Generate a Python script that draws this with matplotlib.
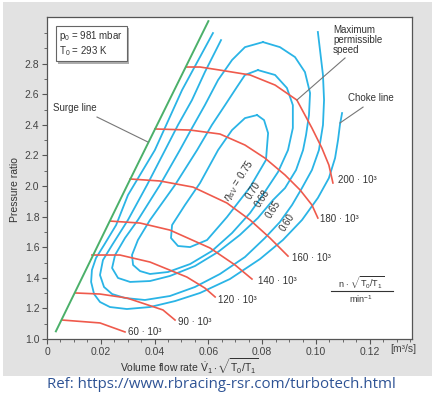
import matplotlib
matplotlib.use('Agg')
import matplotlib.pyplot as plt
from matplotlib.patches import Rectangle
import matplotlib.patheffects as pe

plt.rcParams['font.family'] = ['Liberation Sans', 'DejaVu Sans']
plt.rcParams['mathtext.fontset'] = 'custom'
plt.rcParams['mathtext.rm'] = 'Liberation Sans'
plt.rcParams['mathtext.it'] = 'Liberation Sans:italic'

# ---------------- data ----------------
surge_x = [0.0033, 0.0297, 0.0600]
surge_y = [1.05, 2.00, 3.078]

# speed lines (n*sqrt(T0/T1) in min^-1)
speed_labels = ["60 · 10³", "90 · 10³", "120 · 10³", "140 · 10³", "160 · 10³", "180 · 10³", "200 · 10³"]
sp60_x = [0.0056, 0.0197, 0.0290]
sp60_y = [1.124, 1.105, 1.046]
sp90_x = [0.0104, 0.0197, 0.0297, 0.0431, 0.0476]
sp90_y = [1.301, 1.294, 1.268, 1.190, 1.124]
sp120_x = [0.0167, 0.0271, 0.0383, 0.0520, 0.0587, 0.0625]
sp120_y = [1.549, 1.549, 1.503, 1.405, 1.333, 1.275]
sp140_x = [0.0234, 0.0346, 0.0457, 0.0606, 0.0699, 0.0762]
sp140_y = [1.771, 1.758, 1.712, 1.595, 1.484, 1.392]
sp160_x = [0.0309, 0.0420, 0.0543, 0.0669, 0.0755, 0.0829, 0.0896]
sp160_y = [2.046, 2.033, 1.993, 1.889, 1.778, 1.660, 1.542]
sp180_x = [0.0401, 0.0532, 0.0643, 0.0736, 0.0810, 0.0885, 0.0941, 0.0985, 0.1007]
sp180_y = [2.373, 2.366, 2.340, 2.268, 2.183, 2.072, 1.974, 1.876, 1.791]
sp200_x = [0.0517, 0.0569, 0.0643, 0.0755, 0.0848, 0.0929, 0.0985, 0.1022, 0.1048, 0.1063]
sp200_y = [2.778, 2.778, 2.758, 2.726, 2.660, 2.562, 2.379, 2.248, 2.137, 2.020]
speed_label_x = [0.0301, 0.0487, 0.0636, 0.0784, 0.0911, 0.1015, 0.1082]
speed_label_y = [1.046, 1.111, 1.255, 1.379, 1.529, 1.784, 2.039]

# efficiency contours
eff_labels = [r"$\eta_{\mathrm{isV}}$ = 0.75", "0.70", "0.68", "0.65", "0.60"]
eff_label_x = [0.0712, 0.0766, 0.0800, 0.0841, 0.0893]
eff_label_y = [2.033, 1.972, 1.920, 1.848, 1.762]

e75_x = [0.0781, 0.0807, 0.0822, 0.0814, 0.0755, 0.0669, 0.0595, 0.0532, 0.0487, 0.0461,
         0.0465, 0.0513, 0.0569, 0.0636, 0.0688, 0.0736, 0.0781]
e75_y = [2.464, 2.431, 2.346, 2.170, 1.993, 1.797, 1.647, 1.601, 1.608, 1.660,
         1.745, 1.876, 2.020, 2.235, 2.366, 2.444, 2.464]

e70_x = [0.0784, 0.0736, 0.0706, 0.0662, 0.0613, 0.0558, 0.0476, 0.0383, 0.0338, 0.0316,
         0.0320, 0.0346, 0.0383, 0.0450, 0.0532, 0.0613, 0.0688, 0.0755, 0.0807, 0.0859,
         0.0896, 0.0914, 0.0914, 0.0892, 0.0848, 0.0784]
e70_y = [2.758, 2.726, 2.647, 2.529, 2.399, 2.235, 2.007, 1.778, 1.647, 1.549,
         1.484, 1.444, 1.425, 1.438, 1.490, 1.575, 1.693, 1.824, 1.954, 2.092,
         2.235, 2.379, 2.529, 2.641, 2.726, 2.758]

e68_x = [0.0803, 0.0736, 0.0688, 0.0636, 0.0587, 0.0539, 0.0494, 0.0420, 0.0338, 0.0290,
         0.0253, 0.0242, 0.0264, 0.0309, 0.0383, 0.0457, 0.0550, 0.0636, 0.0717, 0.0784,
         0.0840, 0.0885, 0.0926, 0.0952, 0.0963, 0.0974, 0.0978, 0.0959, 0.0922, 0.0866, 0.0803]
e68_y = [2.941, 2.908, 2.824, 2.693, 2.529, 2.379, 2.235, 2.007, 1.778, 1.660,
         1.549, 1.464, 1.399, 1.373, 1.379, 1.412, 1.477, 1.569, 1.680, 1.791,
         1.908, 1.987, 2.105, 2.235, 2.333, 2.464, 2.608, 2.745, 2.843, 2.908, 2.941]

e65_x = [0.0647, 0.0587, 0.0539, 0.0487, 0.0439, 0.0372, 0.0301, 0.0242, 0.0208, 0.0197,
         0.0212, 0.0242, 0.0290, 0.0364, 0.0457, 0.0550, 0.0643, 0.0736, 0.0810, 0.0866,
         0.0911, 0.0948, 0.0985, 0.1011, 0.1026, 0.1030, 0.1026, 0.1015, 0.1007]
e65_y = [2.954, 2.745, 2.562, 2.399, 2.235, 2.007, 1.778, 1.614, 1.516, 1.418,
         1.340, 1.294, 1.268, 1.255, 1.281, 1.340, 1.425, 1.536, 1.660, 1.765,
         1.876, 1.987, 2.105, 2.235, 2.399, 2.562, 2.726, 2.889, 3.007]

e60_x = [0.0617, 0.0502, 0.0401, 0.0301, 0.0257, 0.0212, 0.0182, 0.0167, 0.0164, 0.0175,
         0.0197, 0.0234, 0.0297, 0.0383, 0.0476, 0.0569, 0.0680, 0.0792, 0.0877, 0.0948,
         0.1007, 0.1048, 0.1071, 0.1082, 0.1089, 0.1097]
e60_y = [3.000, 2.627, 2.235, 1.941, 1.745, 1.614, 1.529, 1.451, 1.373, 1.294,
         1.242, 1.209, 1.196, 1.209, 1.248, 1.301, 1.392, 1.523, 1.647, 1.778,
         1.922, 2.052, 2.183, 2.301, 2.399, 2.477]

x_ticks = [0, 0.02, 0.04, 0.06, 0.08, 0.10, 0.12]
x_tick_labels = ["0", "0.02", "0.04", "0.06", "0.08", "0.10", "0.12"]
y_ticks = [1.0, 1.2, 1.4, 1.6, 1.8, 2.0, 2.2, 2.4, 2.6, 2.8]
y_tick_labels = ["1.0", "1.2", "1.4", "1.6", "1.8", "2.0", "2.2", "2.4", "2.6", "2.8"]

# ---------------- figure ----------------
W, H = 436, 395
fig = plt.figure(figsize=(W / 100, H / 100), dpi=100)
fig.patch.set_facecolor('white')
fig.patches.append(Rectangle((3 / W, 1 - 376 / H), 429 / W, 374 / H,
                             transform=fig.transFigure, fc='#e2e2e2', ec='none', zorder=-10))

ax = fig.add_axes([47 / W, 1 - 339 / H, (412 - 47) / W, (339 - 17) / H])
ax.set_facecolor('white')
ax.set_xlim(0, 0.1357)
ax.set_ylim(1.0, 3.105)

BLUE = '#2ab4e6'
RED = '#ef5a4c'
GREEN = '#4bb06a'
TXT = '#333333'

for xs, ys in [(e75_x, e75_y), (e70_x, e70_y), (e68_x, e68_y), (e65_x, e65_y), (e60_x, e60_y)]:
    ax.plot(xs, ys, color=BLUE, lw=1.3, solid_joinstyle='round', zorder=2)

for xs, ys in [(sp60_x, sp60_y), (sp90_x, sp90_y), (sp120_x, sp120_y), (sp140_x, sp140_y),
               (sp160_x, sp160_y), (sp180_x, sp180_y), (sp200_x, sp200_y)]:
    ax.plot(xs, ys, color=RED, lw=1.2, solid_joinstyle='round', zorder=3)

ax.plot(surge_x, surge_y, color=GREEN, lw=1.4, zorder=4)

for lab, lx, ly in zip(speed_labels, speed_label_x, speed_label_y):
    ax.text(lx, ly, lab, fontsize=7, color=TXT, ha='left', va='center')

for lab, lx, ly in zip(eff_labels, eff_label_x, eff_label_y):
    ax.text(lx, ly, lab, fontsize=7, color=TXT, ha='center', va='center', rotation=57,
            rotation_mode='anchor', zorder=6)

# annotations
t = ax.text(0.034, 0.962, "p$_0$ = 981 mbar\nT$_0$ = 293 K", transform=ax.transAxes,
            fontsize=7, color=TXT, ha='left', va='top', linespacing=1.1,
            bbox=dict(boxstyle='square,pad=0.35', fc='white', ec='#666666', lw=0.8))
t.get_bbox_patch().set_path_effects([pe.withSimplePatchShadow(offset=(1.5, -1.5),
                                                              shadow_rgbFace='#999999', alpha=0.8)])

ax.text(0.0022, 2.51, "Surge line", fontsize=7, color=TXT, ha='left', va='center')
ax.plot([0.0186, 0.0375], [2.451, 2.288], color='#777777', lw=0.8, zorder=5)

ax.text(0.1063, 3.055, "Maximum\npermissible\nspeed", fontsize=7, color=TXT, ha='left',
        va='top', linespacing=1.0)
ax.plot([0.1108, 0.0929], [2.837, 2.562], color='#777777', lw=0.8, zorder=5)

ax.text(0.1119, 2.575, "Choke line", fontsize=7, color=TXT, ha='left', va='center')
ax.plot([0.1175, 0.1089], [2.516, 2.412], color='#777777', lw=0.8, zorder=5)

ax.text(0.1167, 1.366, r"n $\cdot$ $\sqrt{\mathrm{T_0/T_1}}$", fontsize=6.5, color=TXT,
        ha='center', va='center')
ax.plot([0.1055, 0.1285], [1.314, 1.314], color=TXT, lw=0.8)
ax.text(0.1167, 1.262, "min$^{-1}$", fontsize=6.5, color=TXT, ha='center', va='center')

# axes styling
for s in ax.spines.values():
    s.set_color('#555555')
    s.set_linewidth(0.9)
ax.set_xticks(x_ticks)
ax.set_xticklabels(x_tick_labels)
ax.set_yticks(y_ticks)
ax.set_yticklabels(y_tick_labels)
ax.set_xticks([i * 0.005 for i in range(28)], minor=True)
ax.set_yticks([1.0 + i * 0.1 for i in range(21)], minor=True)
ax.tick_params(which='major', direction='out', length=3.5, width=0.8, color='#555555',
               labelsize=7.5, labelcolor='#444444', pad=2)
ax.tick_params(which='minor', direction='out', length=2, width=0.6, color='#555555')

fig.text(403 / W, 1 - 349 / H, "[m³/s]", fontsize=7.5, color='#444444', ha='center', va='center')
fig.text(189 / W, 1 - 366 / H, r"Volume flow rate $\dot{\mathrm{V}}_1 \cdot \sqrt{\mathrm{T_0/T_1}}$",
         fontsize=7.5, color=TXT, ha='center', va='center')
fig.text(15 / W, 1 - 190 / H, "Pressure ratio", fontsize=7.5, color=TXT, ha='center',
         va='center', rotation=90)

fig.text(221 / W, 1 - 384 / H, "Ref: https://www.rbracing-rsr.com/turbotech.html",
         fontsize=10.8, color='#2e5395', ha='center', va='center', family=['Open Sans', 'DejaVu Sans'])

fig.savefig('out.png', dpi=100, facecolor=fig.get_facecolor())
